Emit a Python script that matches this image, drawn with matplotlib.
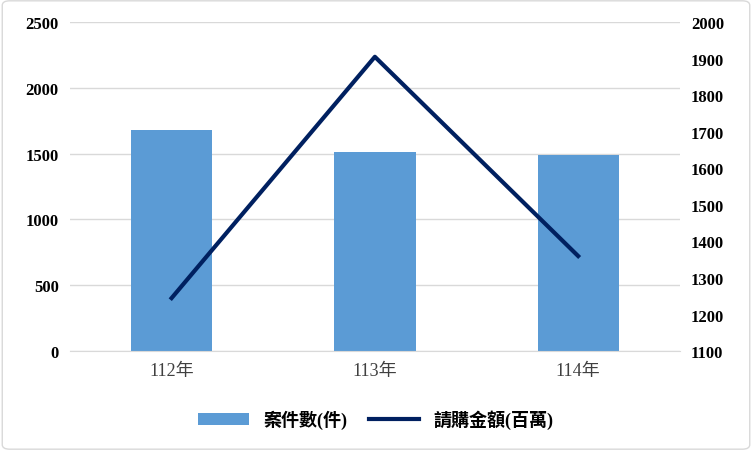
import matplotlib.pyplot as plt
from matplotlib.patches import FancyBboxPatch

plt.rcParams['font.family'] = ['Liberation Serif', 'Noto Sans CJK TC']

# -- Data ----------------------------------------------------------------------
YEARS = ['112年', '113年', '114年']
CASES = [1680, 1510, 1490]          # 案件數(件), left axis
AMOUNT = [1245, 1905, 1360]         # 請購金額(百萬), right axis
# ------------------------------------------------------------------------------

BAR_COLOR = '#5b9bd5'
LINE_COLOR = '#002060'

fig = plt.figure(figsize=(7.52, 4.52), dpi=100)
fig.patches.append(FancyBboxPatch((0.003, 0.004), 0.994, 0.992,
                                  boxstyle='round,pad=0,rounding_size=0.01',
                                  transform=fig.transFigure, fill=False,
                                  edgecolor='#d9d9d9', lw=1))

ax = fig.add_axes([0.093, 0.221, 0.811, 0.728])
x = range(len(YEARS))
ax.bar(x, CASES, width=0.4, color=BAR_COLOR, label='案件數(件)', zorder=2)
ax.set_ylim(0, 2500)
ax.set_yticks(range(0, 2501, 500))
ax.set_xlim(-0.5, 2.5)
ax.set_xticks(list(x))
ax.set_xticklabels(YEARS, fontsize=13, color='#404040')
ax.grid(axis='y', color='#d9d9d9', lw=1, zorder=0)
for s in ['top', 'left', 'right']:
    ax.spines[s].set_visible(False)
ax.spines['bottom'].set_color('#d9d9d9')
ax.tick_params(length=0, pad=8)
ax.tick_params(axis='y', labelsize=12)
for t in ax.get_yticklabels():
    t.set_fontweight('bold')

ax2 = ax.twinx()
ax2.plot(list(x), AMOUNT, color=LINE_COLOR, lw=3, label='請購金額(百萬)')
ax2.set_ylim(1100, 2000)
ax2.set_yticks(range(1100, 2001, 100))
for s in ax2.spines.values():
    s.set_visible(False)
ax2.tick_params(length=0, labelsize=12, pad=8)
for t in ax2.get_yticklabels():
    t.set_fontweight('bold')

h1, l1 = ax.get_legend_handles_labels()
h2, l2 = ax2.get_legend_handles_labels()
fig.legend(h1 + h2, l1 + l2, loc='center', bbox_to_anchor=(0.5, 0.07),
           ncol=2, frameon=False, prop={'size': 13, 'weight': 'bold'},
           handlelength=2.8, columnspacing=1.2)

fig.savefig('out.png', dpi=100)
